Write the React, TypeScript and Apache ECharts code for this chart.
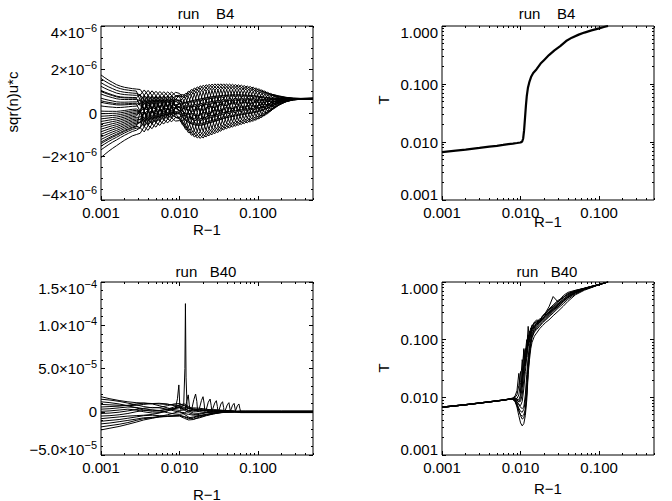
import React, { useEffect, useRef } from "react";
import * as echarts from "echarts";

const FONT = "'Liberation Sans', Arial, Helvetica, sans-serif";

// ---------- texts ----------
const PANEL_TITLES = ["run    B4", "run    B4", "run   B40", "run   B40"];
const X_TITLE = "R\u22121";
const Y_TITLES = ["sqr(n)u*c", "T", "", "T"];

// ---------- axes ----------
const X_MIN = 0.001;
const X_MAX = 0.5;
const T_MIN = 0.001;
const T_MAX = 1;
const TL_Y_MIN = -4e-6, TL_Y_MAX = 4e-6, TL_Y_STEP = 2e-6;
const BL_Y_MIN = -5e-5, BL_Y_MAX = 1.5e-4, BL_Y_STEP = 5e-5;

// ---------- top-left: run B4, sqr(n)u*c  (units 1e-6) ----------
const TL_X = [0.001, 0.00112, 0.00126, 0.00141, 0.00158, 0.00178, 0.002, 0.00224, 0.00251, 0.00282,
  0.00316, 0.00355, 0.00398, 0.00447, 0.00501, 0.00562, 0.00631, 0.00708, 0.00794, 0.00891,
  0.01, 0.0109, 0.0119, 0.0129, 0.0141, 0.0154, 0.0168, 0.0183, 0.02, 0.0218, 0.0237, 0.0259, 0.0282, 0.0308, 0.0335, 0.0365,
  0.0398, 0.0434, 0.0473, 0.0516, 0.0562, 0.0613, 0.0668, 0.0728, 0.0794, 0.0866, 0.0944, 0.103, 0.112, 0.122, 0.133, 0.145,
  0.16, 0.19, 0.23, 0.28, 0.35, 0.5];
// upper / lower envelope of the bundle
const TL_UPPER = [1.75, 1.62, 1.5, 1.4, 1.3, 1.23, 1.18, 1.15, 1.12, 1.1,
  1.08, 1.06, 1.04, 1.02, 1.0, 0.99, 0.98, 0.97, 0.97, 0.95,
  0.9, 0.85, 0.9, 1.0, 1.08, 1.15, 1.2, 1.25, 1.28, 1.3, 1.32, 1.33, 1.34, 1.34, 1.34, 1.34,
  1.33, 1.33, 1.32, 1.31, 1.3, 1.28, 1.26, 1.24, 1.22, 1.19, 1.15, 1.11, 1.06, 1.01, 0.95, 0.9,
  0.85, 0.78, 0.72, 0.68, 0.67, 0.68];
const TL_LOWER = [-2.05, -1.9, -1.75, -1.62, -1.5, -1.37, -1.25, -1.15, -1.05, -0.99,
  -0.93, -0.87, -0.8, -0.72, -0.65, -0.57, -0.5, -0.45, -0.4, -0.37,
  -0.35, -0.55, -0.75, -0.9, -1.02, -1.1, -1.15, -1.17, -1.15, -1.1, -1.05, -1.0, -0.95, -0.9, -0.84, -0.78,
  -0.73, -0.69, -0.65, -0.61, -0.57, -0.53, -0.49, -0.45, -0.42, -0.38, -0.33, -0.27, -0.2, -0.12, -0.03, 0.08,
  0.2, 0.38, 0.52, 0.6, 0.63, 0.64];
// position of each curve inside the envelope: +8 = upper edge, -8 = lower edge
const TL_LEVELS = [
  [8,8,8,8,8,8,8,8,8,8, 8,6,0,-6,-8,-6,0,6,8,6,
    6,3,0,-3,-6,-7,-8,-7,-6,-3,0,3,6,7,8,7, 6,3,0,-3,-6,-7,-8,-7,-6,-3,0,3,6,7,8,7, 6,3,0,-3,-6,-7],
  [5,5,5,5,5,5,5,5,5,5, 6,0,-6,-8,-6,0,6,8,6,0,
    0,-3,-6,-7,-8,-7,-6,-3,0,3,6,7,8,7,6,3, 0,-3,-6,-7,-8,-7,-6,-3,0,3,6,7,8,7,6,3, 0,-3,-6,-7,-8,-7],
  [1,1,1,1,1,1,1,1,1,1, 0,-6,-8,-6,0,6,8,6,0,-6,
    -6,-7,-8,-7,-6,-3,0,3,6,7,8,7,6,3,0,-3, -6,-7,-8,-7,-6,-3,0,3,6,7,8,7,6,3,0,-3, -6,-7,-8,-7,-6,-3],
  [-5,-5,-5,-5,-5,-5,-5,-5,-5,-5, -6,-8,-6,0,6,8,6,0,-6,-8,
    -8,-7,-6,-3,0,3,6,7,8,7,6,3,0,-3,-6,-7, -8,-7,-6,-3,0,3,6,7,8,7,6,3,0,-3,-6,-7, -8,-7,-6,-3,0,3],
  [-8,-8,-8,-8,-8,-8,-8,-8,-8,-8, -8,-6,0,6,8,6,0,-6,-8,-6,
    -6,-3,0,3,6,7,8,7,6,3,0,-3,-6,-7,-8,-7, -6,-3,0,3,6,7,8,7,6,3,0,-3,-6,-7,-8,-7, -6,-3,0,3,6,7],
  [-6.5,-6.5,-6.5,-6.5,-6.5,-6.5,-6.5,-6.5,-6.5,-6.5, -6,0,6,8,6,0,-6,-8,-6,0,
    0,3,6,7,8,7,6,3,0,-3,-6,-7,-8,-7,-6,-3, 0,3,6,7,8,7,6,3,0,-3,-6,-7,-8,-7,-6,-3, 0,3,6,7,8,7],
  [-1.5,-1.5,-1.5,-1.5,-1.5,-1.5,-1.5,-1.5,-1.5,-1.5, 0,6,8,6,0,-6,-8,-6,0,6,
    6,7,8,7,6,3,0,-3,-6,-7,-8,-7,-6,-3,0,3, 6,7,8,7,6,3,0,-3,-6,-7,-8,-7,-6,-3,0,3, 6,7,8,7,6,3],
  [6.5,6.5,6.5,6.5,6.5,6.5,6.5,6.5,6.5,6.5, 6,8,6,0,-6,-8,-6,0,6,8,
    8,7,6,3,0,-3,-6,-7,-8,-7,-6,-3,0,3,6,7, 8,7,6,3,0,-3,-6,-7,-8,-7,-6,-3,0,3,6,7, 8,7,6,3,0,-3],
  [5.8,5.8,5.8,5.8,5.8,5.8,5.8,5.8,5.8,5.8, 6,4,0,-4,-6,-4,0,4,6,4,
    3,0,-3,-6,-7,-8,-7,-6,-3,0,3,6,7,8,7,6, 3,0,-3,-6,-7,-8,-7,-6,-3,0,3,6,7,8,7,6, 3,0,-3,-6,-7,-8],
  [4.3,4.3,4.3,4.3,4.3,4.3,4.3,4.3,4.3,4.3, 4,0,-4,-6,-4,0,4,6,4,0,
    -3,-6,-7,-8,-7,-6,-3,0,3,6,7,8,7,6,3,0, -3,-6,-7,-8,-7,-6,-3,0,3,6,7,8,7,6,3,0, -3,-6,-7,-8,-7,-6],
  [0.5,0.5,0.5,0.5,0.5,0.5,0.5,0.5,0.5,0.5, 0,-4,-6,-4,0,4,6,4,0,-4,
    -7,-8,-7,-6,-3,0,3,6,7,8,7,6,3,0,-3,-6, -7,-8,-7,-6,-3,0,3,6,7,8,7,6,3,0,-3,-6, -7,-8,-7,-6,-3,0],
  [-3.5,-3.5,-3.5,-3.5,-3.5,-3.5,-3.5,-3.5,-3.5,-3.5, -4,-6,-4,0,4,6,4,0,-4,-6,
    -7,-6,-3,0,3,6,7,8,7,6,3,0,-3,-6,-7,-8, -7,-6,-3,0,3,6,7,8,7,6,3,0,-3,-6,-7,-8, -7,-6,-3,0,3,6],
  [-5.8,-5.8,-5.8,-5.8,-5.8,-5.8,-5.8,-5.8,-5.8,-5.8, -6,-4,0,4,6,4,0,-4,-6,-4,
    -3,0,3,6,7,8,7,6,3,0,-3,-6,-7,-8,-7,-6, -3,0,3,6,7,8,7,6,3,0,-3,-6,-7,-8,-7,-6, -3,0,3,6,7,8],
  [-4.5,-4.5,-4.5,-4.5,-4.5,-4.5,-4.5,-4.5,-4.5,-4.5, -4,0,4,6,4,0,-4,-6,-4,0,
    3,6,7,8,7,6,3,0,-3,-6,-7,-8,-7,-6,-3,0, 3,6,7,8,7,6,3,0,-3,-6,-7,-8,-7,-6,-3,0, 3,6,7,8,7,6],
  [-1,-1,-1,-1,-1,-1,-1,-1,-1,-1, 0,4,6,4,0,-4,-6,-4,0,4,
    7,8,7,6,3,0,-3,-6,-7,-8,-7,-6,-3,0,3,6, 7,8,7,6,3,0,-3,-6,-7,-8,-7,-6,-3,0,3,6, 7,8,7,6,3,0],
  [7.3,7.3,7.3,7.3,7.3,7.3,7.3,7.3,7.3,7.3, 4,6,4,0,-4,-6,-4,0,4,6,
    7,6,3,0,-3,-6,-7,-8,-7,-6,-3,0,3,6,7,8, 7,6,3,0,-3,-6,-7,-8,-7,-6,-3,0,3,6,7,8, 7,6,3,0,-3,-6],
  [3.5,3.5,3.5,3.5,3.5,3.5,3.5,3.5,3.5,3.5, 4,3,0,-3,-4,-3,0,3,4,3,
    4,3,2,0,-2,-3,-4,-4,-4,-3,-2,0,2,3,4,4, 4,3,2,0,-2,-3,-4,-4,-4,-3,-2,0,2,3,4,4, 4,3,2,0,-2,-3],
  [2,2,2,2,2,2,2,2,2,2, 3,0,-3,-4,-3,0,3,4,3,0,
    2,0,-2,-3,-4,-4,-4,-3,-2,0,2,3,4,4,4,3, 2,0,-2,-3,-4,-4,-4,-3,-2,0,2,3,4,4,4,3, 2,0,-2,-3,-4,-4],
  [0,0,0,0,0,0,0,0,0,0, 0,-3,-4,-3,0,3,4,3,0,-3,
    -2,-3,-4,-4,-4,-3,-2,0,2,3,4,4,4,3,2,0, -2,-3,-4,-4,-4,-3,-2,0,2,3,4,4,4,3,2,0, -2,-3,-4,-4,-4,-3],
  [-3,-3,-3,-3,-3,-3,-3,-3,-3,-3, -3,-4,-3,0,3,4,3,0,-3,-4,
    -4,-4,-4,-3,-2,0,2,3,4,4,4,3,2,0,-2,-3, -4,-4,-4,-3,-2,0,2,3,4,4,4,3,2,0,-2,-3, -4,-4,-4,-3,-2,0],
  [-4,-4,-4,-4,-4,-4,-4,-4,-4,-4, -4,-3,0,3,4,3,0,-3,-4,-3,
    -4,-3,-2,0,2,3,4,4,4,3,2,0,-2,-3,-4,-4, -4,-3,-2,0,2,3,4,4,4,3,2,0,-2,-3,-4,-4, -4,-3,-2,0,2,3],
  [-2.5,-2.5,-2.5,-2.5,-2.5,-2.5,-2.5,-2.5,-2.5,-2.5, -3,0,3,4,3,0,-3,-4,-3,0,
    -2,0,2,3,4,4,4,3,2,0,-2,-3,-4,-4,-4,-3, -2,0,2,3,4,4,4,3,2,0,-2,-3,-4,-4,-4,-3, -2,0,2,3,4,4],
  [-0.5,-0.5,-0.5,-0.5,-0.5,-0.5,-0.5,-0.5,-0.5,-0.5, 0,3,4,3,0,-3,-4,-3,0,3,
    2,3,4,4,4,3,2,0,-2,-3,-4,-4,-4,-3,-2,0, 2,3,4,4,4,3,2,0,-2,-3,-4,-4,-4,-3,-2,0, 2,3,4,4,4,3],
  [3,3,3,3,3,3,3,3,3,3, 3,4,3,0,-3,-4,-3,0,3,4,
    4,4,4,3,2,0,-2,-3,-4,-4,-4,-3,-2,0,2,3, 4,4,4,3,2,0,-2,-3,-4,-4,-4,-3,-2,0,2,3, 4,4,4,3,2,0],
  [4.8,4.8,4.8,4.8,4.8,4.8,4.8,4.8,4.8,4.8, 2,1,0,-1,-2,-1,0,1,2,1,
    2,2,1,1,0,-1,-1,-2,-2,-2,-1,-1,0,1,1,2, 2,2,1,1,0,-1,-1,-2,-2,-2,-1,-1,0,1,1,2, 2,2,1,1,0,-1],
  [2.7,2.7,2.7,2.7,2.7,2.7,2.7,2.7,2.7,2.7, 0,-1,-2,-1,0,1,2,1,0,-1,
    0,-1,-1,-2,-2,-2,-1,-1,0,1,1,2,2,2,1,1, 0,-1,-1,-2,-2,-2,-1,-1,0,1,1,2,2,2,1,1, 0,-1,-1,-2,-2,-2],
  [-2,-2,-2,-2,-2,-2,-2,-2,-2,-2, -2,-1,0,1,2,1,0,-1,-2,-1,
    -2,-2,-1,-1,0,1,1,2,2,2,1,1,0,-1,-1,-2, -2,-2,-1,-1,0,1,1,2,2,2,1,1,0,-1,-1,-2, -2,-2,-1,-1,0,1],
  [-5.3,-5.3,-5.3,-5.3,-5.3,-5.3,-5.3,-5.3,-5.3,-5.3, 0,1,2,1,0,-1,-2,-1,0,1,
    0,1,1,2,2,2,1,1,0,-1,-1,-2,-2,-2,-1,-1, 0,1,1,2,2,2,1,1,0,-1,-1,-2,-2,-2,-1,-1, 0,1,1,2,2,2],
];

// ---------- top-right: run B4, T ----------
const TR_X = [0.001, 0.0015, 0.002, 0.003, 0.004, 0.005, 0.006, 0.007, 0.008, 0.009, 0.01, 0.0105, 0.0108, 0.0111,
  0.0114, 0.0117, 0.012, 0.0124, 0.013, 0.0137, 0.0145, 0.016, 0.018, 0.02, 0.023, 0.027, 0.032, 0.038, 0.045,
  0.055, 0.065, 0.08, 0.1, 0.115, 0.13];
const TR_T = [0.0067, 0.0071, 0.0074, 0.0079, 0.0083, 0.0086, 0.0089, 0.0092, 0.0094, 0.0096, 0.0098, 0.0102, 0.0115, 0.016,
  0.026, 0.042, 0.062, 0.085, 0.11, 0.135, 0.155, 0.18, 0.225, 0.26, 0.315, 0.38, 0.45, 0.55, 0.63,
  0.71, 0.77, 0.84, 0.91, 0.96, 1.0];

// ---------- bottom-left: run B40, sqr(n)u*c (units 1e-5) ----------
const BL_X = [0.001, 0.0013, 0.0017, 0.0022, 0.0028, 0.0035, 0.0045, 0.0055, 0.007, 0.0085, 0.01, 0.0115, 0.013,
  0.015, 0.018, 0.022, 0.027, 0.033, 0.04, 0.05, 0.06, 0.07, 0.1, 0.2, 0.5];
const BL_LINES = [
  [1.74, 1.5, 1.3, 1.15, 1.05, 1.0, 0.95, 0.9, 0.85, 0.8, 0.7, 0.5, 0.4, 0.3, 0.25, 0.2, 0.15, 0.1, 0.08, 0.05, 0.1, 0.1, 0.1, 0.1, 0.1],
  [1.45, 1.35, 1.2, 1.0, 0.8, 0.6, 0.45, 0.5, 0.7, 0.9, 0.95, 0.7, 0.4, 0.2, 0.1, 0.15, 0.2, 0.15, 0.1, 0.05, 0.05, 0.05, 0.05, 0.05, 0.05],
  [1.15, 1.05, 0.9, 0.7, 0.45, 0.2, 0.05, 0.1, 0.3, 0.55, 0.8, 0.9, 0.6, 0.35, 0.2, 0.05, -0.05, 0.05, 0.1, 0.05, 0, 0, 0, 0, 0],
  [0.85, 0.8, 0.75, 0.7, 0.75, 0.85, 0.95, 0.98, 0.9, 0.7, 0.5, 0.3, 0.15, 0.05, 0.1, 0.2, 0.25, 0.2, 0.12, 0.06, -0.05, -0.05, -0.05, -0.05, -0.05],
  [0.55, 0.6, 0.65, 0.75, 0.9, 1.0, 0.9, 0.7, 0.45, 0.25, 0.15, 0.2, 0.35, 0.45, 0.4, 0.3, 0.15, 0.05, 0.02, 0.01, -0.1, -0.1, -0.1, -0.1, -0.1],
  [0.3, 0.35, 0.45, 0.55, 0.5, 0.35, 0.2, 0.15, 0.25, 0.4, 0.6, 0.75, 0.5, 0.2, 0.0, -0.1, -0.05, 0.05, 0.08, 0.05, 0, 0, 0, 0, 0],
  [0.05, 0.1, 0.2, 0.3, 0.2, 0.0, -0.15, -0.1, 0.1, 0.35, 0.55, 0.4, 0.1, -0.15, -0.2, -0.1, 0.0, 0.1, 0.1, 0.05, 0, 0, 0, 0, 0],
  [-0.2, -0.15, -0.05, 0.1, 0.25, 0.4, 0.5, 0.45, 0.3, 0.1, -0.05, -0.1, 0.05, 0.2, 0.25, 0.15, 0.0, -0.1, -0.05, 0, 0, 0, 0, 0, 0],
  [-0.5, -0.45, -0.35, -0.2, 0.0, 0.15, 0.2, 0.1, -0.1, -0.25, -0.3, -0.2, -0.3, -0.4, -0.3, -0.1, 0.05, 0.1, 0.05, 0, 0, 0, 0, 0, 0],
  [-0.8, -0.7, -0.6, -0.5, -0.45, -0.4, -0.3, -0.15, 0.1, 0.35, 0.45, 0.2, -0.1, -0.3, -0.45, -0.35, -0.2, -0.05, 0, 0, 0, 0, 0, 0, 0],
  [-1.1, -1.0, -0.9, -0.75, -0.6, -0.45, -0.4, -0.45, -0.5, -0.5, -0.45, -0.6, -0.8, -0.7, -0.5, -0.3, -0.15, -0.05, -0.02, 0, 0, 0, 0, 0, 0],
  [-1.4, -1.3, -1.15, -1.0, -0.85, -0.7, -0.65, -0.55, -0.35, -0.15, 0.05, -0.3, -0.6, -0.85, -0.7, -0.45, -0.25, -0.1, -0.03, 0, 0, 0, 0, 0, 0],
  [-1.75, -1.6, -1.45, -1.25, -1.0, -0.8, -0.7, -0.6, -0.55, -0.5, -0.5, -0.75, -0.95, -0.9, -0.6, -0.4, -0.25, -0.12, -0.05, -0.02, 0, 0, 0, 0, 0],
  [-2.1, -1.9, -1.7, -1.45, -1.2, -0.95, -0.75, -0.6, -0.5, -0.45, -0.4, -0.55, -0.7, -0.6, -0.45, -0.3, -0.2, -0.1, -0.04, -0.01, 0, 0, 0, 0, 0],
];
// resonance bumps [x, value in 1e-5]
const BL_SPIKES = [
  [[0.0088, 0.3], [0.0094, 1.5], [0.0098, 3.1], [0.0101, 0.5], [0.0105, 0.2]],
  [[0.0113, 0.8], [0.0117, 5.0], [0.01188, 12.5], [0.0121, 4.0], [0.0125, 0.3]],
  [[0.0118, 0.2], [0.0123, 1.2], [0.0129, 1.95], [0.0133, 0.8], [0.0137, 0.0]],
  [[0.0143, 0.3], [0.0152, 1.4], [0.016, 2.05], [0.0166, 1.2], [0.017, 0.0]],
  [[0.0178, 0.3], [0.019, 1.3], [0.0199, 1.74], [0.0206, 0.9], [0.021, 0.0]],
  [[0.0218, 0.2], [0.0232, 1.1], [0.0245, 1.47], [0.0253, 0.7], [0.0258, -0.1]],
  [[0.0262, 0.2], [0.028, 1.0], [0.0294, 1.28], [0.0303, 0.6], [0.031, -0.1]],
  [[0.0316, 0.1], [0.0336, 0.9], [0.0353, 1.16], [0.0364, 0.5], [0.037, -0.1]],
  [[0.038, 0.1], [0.0405, 0.8], [0.0425, 1.05], [0.0437, 0.4], [0.0445, 0.0]],
  [[0.0445, 0.1], [0.0473, 0.75], [0.0495, 0.97], [0.0508, 0.4], [0.0516, 0.0]],
  [[0.0515, 0.1], [0.0545, 0.7], [0.057, 0.9], [0.0585, 0.4], [0.06, 0.0]],
];

// ---------- bottom-right: run B40, T ----------
const BR_X = [0.001, 0.002, 0.004, 0.006, 0.007, 0.008, 0.0085, 0.009, 0.0095, 0.01, 0.0105, 0.011, 0.0115, 0.012,
  0.0125, 0.013, 0.0135, 0.014, 0.015, 0.016, 0.0175, 0.019, 0.021, 0.023, 0.026, 0.03, 0.035, 0.04, 0.05, 0.065,
  0.08, 0.1, 0.13];
const BR_LINES = [
  [0.0067, 0.0074, 0.0083, 0.0089, 0.0092, 0.0098, 0.0105, 0.013, 0.026, 0.012, 0.02, 0.066, 0.035, 0.07, 0.17, 0.1, 0.13, 0.17, 0.2, 0.19, 0.22, 0.25, 0.3, 0.37, 0.56, 0.45, 0.58, 0.66, 0.72, 0.78, 0.84, 0.91, 1.0],
  [0.0067, 0.0074, 0.0083, 0.0089, 0.0092, 0.0096, 0.0098, 0.0095, 0.011, 0.018, 0.045, 0.03, 0.06, 0.1, 0.08, 0.13, 0.16, 0.15, 0.19, 0.21, 0.2, 0.25, 0.29, 0.33, 0.38, 0.46, 0.53, 0.62, 0.7, 0.77, 0.84, 0.91, 1.0],
  [0.0067, 0.0074, 0.0083, 0.0089, 0.0092, 0.0094, 0.0092, 0.0088, 0.0085, 0.0095, 0.015, 0.03, 0.05, 0.075, 0.1, 0.12, 0.14, 0.155, 0.175, 0.19, 0.21, 0.235, 0.27, 0.3, 0.35, 0.42, 0.5, 0.57, 0.68, 0.77, 0.83, 0.905, 1.0],
  [0.0068, 0.0075, 0.0084, 0.009, 0.0093, 0.0093, 0.009, 0.0082, 0.0075, 0.0072, 0.0085, 0.014, 0.028, 0.05, 0.075, 0.1, 0.12, 0.14, 0.165, 0.18, 0.2, 0.225, 0.26, 0.29, 0.34, 0.4, 0.48, 0.55, 0.66, 0.76, 0.82, 0.9, 1.0],
  [0.0067, 0.0074, 0.0083, 0.0089, 0.0092, 0.0092, 0.0085, 0.0068, 0.0048, 0.0036, 0.0032, 0.0035, 0.0048, 0.009, 0.025, 0.045, 0.07, 0.09, 0.115, 0.13, 0.155, 0.175, 0.2, 0.22, 0.26, 0.31, 0.38, 0.46, 0.6, 0.72, 0.8, 0.9, 1.0],
  [0.0068, 0.0075, 0.0084, 0.009, 0.0093, 0.0092, 0.0088, 0.0078, 0.0065, 0.0057, 0.0055, 0.0062, 0.0085, 0.018, 0.04, 0.07, 0.095, 0.12, 0.15, 0.165, 0.19, 0.21, 0.24, 0.27, 0.32, 0.38, 0.46, 0.54, 0.65, 0.75, 0.82, 0.9, 1.0],
  [0.0067, 0.0074, 0.0083, 0.0089, 0.0092, 0.0093, 0.009, 0.0085, 0.0075, 0.0067, 0.0064, 0.0068, 0.011, 0.025, 0.05, 0.08, 0.105, 0.13, 0.155, 0.175, 0.2, 0.22, 0.25, 0.28, 0.33, 0.4, 0.47, 0.55, 0.66, 0.76, 0.82, 0.9, 1.0],
  [0.0068, 0.0075, 0.0084, 0.009, 0.0093, 0.0092, 0.0086, 0.0072, 0.0058, 0.005, 0.0047, 0.005, 0.0062, 0.012, 0.03, 0.058, 0.085, 0.11, 0.135, 0.15, 0.17, 0.195, 0.22, 0.25, 0.29, 0.35, 0.42, 0.5, 0.62, 0.74, 0.81, 0.9, 1.0],
  [0.0067, 0.0074, 0.0083, 0.0089, 0.0092, 0.0095, 0.0097, 0.0092, 0.009, 0.011, 0.025, 0.07, 0.04, 0.085, 0.12, 0.09, 0.15, 0.18, 0.16, 0.2, 0.23, 0.22, 0.28, 0.32, 0.37, 0.44, 0.55, 0.6, 0.7, 0.78, 0.84, 0.91, 1.0],
  [0.0068, 0.0075, 0.0084, 0.009, 0.0093, 0.0094, 0.0094, 0.009, 0.0083, 0.0085, 0.011, 0.02, 0.04, 0.062, 0.088, 0.11, 0.13, 0.15, 0.17, 0.185, 0.205, 0.23, 0.265, 0.3, 0.35, 0.42, 0.5, 0.58, 0.68, 0.77, 0.83, 0.905, 1.0],
  [0.0067, 0.0074, 0.0083, 0.0089, 0.0092, 0.0092, 0.0087, 0.0075, 0.006, 0.0048, 0.0042, 0.0044, 0.0058, 0.011, 0.028, 0.055, 0.085, 0.11, 0.14, 0.16, 0.18, 0.2, 0.23, 0.26, 0.31, 0.37, 0.45, 0.53, 0.64, 0.75, 0.81, 0.9, 1.0],
  [0.0068, 0.0075, 0.0084, 0.009, 0.0093, 0.0096, 0.01, 0.011, 0.016, 0.028, 0.015, 0.035, 0.07, 0.05, 0.11, 0.14, 0.12, 0.17, 0.2, 0.22, 0.21, 0.26, 0.29, 0.34, 0.4, 0.48, 0.54, 0.63, 0.71, 0.78, 0.84, 0.91, 1.0],
];

// ---------- helpers ----------
const GRIDS = [
  { left: 101, top: 26, width: 212, height: 174 },
  { left: 442, top: 26, width: 212, height: 174 },
  { left: 101, top: 282, width: 212, height: 173 },
  { left: 442, top: 282, width: 212, height: 173 },
];

const RICH = {
  m: { fontSize: 15, lineHeight: 20, fontFamily: FONT, color: "#000" },
  e: { fontSize: 11, lineHeight: 10, verticalAlign: "top", fontFamily: FONT, color: "#000" },
  g: { fontSize: 2, lineHeight: 12 },
};

function wrapEnd(isMax: boolean, isMin: boolean, body: string) {
  if (isMax) return "{g| }\n" + body;
  if (isMin) return body + "\n{g| }";
  return body;
}

function sciFormatter(min: number, max: number, digits: number) {
  return (v: number) => {
    const tol = (max - min) * 1e-6;
    let body: string;
    if (Math.abs(v) < tol) body = "{m|0}";
    else {
      const a = Math.abs(v);
      const exp = Math.floor(Math.log10(a) + 1e-9);
      const man = a / Math.pow(10, exp);
      body = `{m|${v < 0 ? "\u2212" : ""}${man.toFixed(digits)}\u00d710}{e|\u2212${-exp}}`;
    }
    return wrapEnd(Math.abs(v - max) < tol, Math.abs(v - min) < tol, body);
  };
}

function logFormatter(min: number, max: number) {
  return (v: number) => {
    const l = Math.log10(v);
    return wrapEnd(Math.abs(l - Math.log10(max)) < 1e-6, Math.abs(l - Math.log10(min)) < 1e-6, `{m|${v.toFixed(3)}}`);
  };
}

function minorLogPositions(minExp: number, maxVal: number) {
  const out: number[] = [];
  const lim = Math.log10(maxVal) + 1e-9;
  for (let d = minExp; d < 0; d++) {
    for (let k = 2; k <= 9; k++) {
      const p = Math.log10(k * Math.pow(10, d));
      if (p <= lim) out.push(p);
    }
  }
  return out;
}

const TICK_STYLE = { color: "#000", width: 1 };
const NO_LINE = { show: false, onZero: false };

function tickAxis(gridIndex: number, position: string, min: number, max: number, values: number[], length: number) {
  return {
    type: "value", gridIndex, position, min, max, silent: true,
    axisLine: NO_LINE, splitLine: { show: false }, axisLabel: { show: false },
    axisTick: { show: true, inside: true, length, customValues: values, lineStyle: TICK_STYLE },
  };
}

function buildOption() {
  const xAxes: any[] = [];
  const yAxes: any[] = [];
  const mainX: number[] = [];
  const mainY: number[] = [];
  const LX0 = Math.log10(X_MIN), LX1 = Math.log10(X_MAX);
  const LY0 = Math.log10(T_MIN), LY1 = Math.log10(T_MAX);
  const xMinor = minorLogPositions(-3, X_MAX);
  const yMinor = minorLogPositions(-3, T_MAX);

  GRIDS.forEach((_, g) => {
    mainX[g] = xAxes.length;
    xAxes.push({
      type: "log", logBase: 10, gridIndex: g, position: "bottom", min: X_MIN, max: X_MAX,
      axisLine: NO_LINE, splitLine: { show: false },
      axisTick: { inside: true, length: 4, lineStyle: TICK_STYLE },
      axisLabel: { color: "#000", fontFamily: FONT, fontSize: 15, margin: 5, showMaxLabel: false,
        formatter: (v: number) => v.toFixed(3) },
    });
    xAxes.push(tickAxis(g, "bottom", LX0, LX1, xMinor, 2));
    xAxes.push(tickAxis(g, "top", LX0, LX1, [-2, -1], 4));
    xAxes.push(tickAxis(g, "top", LX0, LX1, xMinor, 2));

    if (g === 0 || g === 2) {
      const min = g === 0 ? TL_Y_MIN : BL_Y_MIN;
      const max = g === 0 ? TL_Y_MAX : BL_Y_MAX;
      const step = g === 0 ? TL_Y_STEP : BL_Y_STEP;
      const split = g === 0 ? 4 : 5;
      const base = {
        type: "value", gridIndex: g, min, max, interval: step,
        axisLine: NO_LINE, splitLine: { show: false }, minorSplitLine: { show: false },
        axisTick: { inside: true, length: 4, lineStyle: TICK_STYLE },
        minorTick: { show: true, splitNumber: split, length: 2, lineStyle: TICK_STYLE },
      };
      mainY[g] = yAxes.length;
      yAxes.push({ ...base, position: "left",
        axisLabel: { margin: 4, rich: RICH, formatter: sciFormatter(min, max, g === 0 ? 0 : 1) } });
      yAxes.push({ ...base, position: "right", axisLabel: { show: false } });
    } else {
      mainY[g] = yAxes.length;
      yAxes.push({
        type: "log", logBase: 10, gridIndex: g, position: "left", min: T_MIN, max: T_MAX,
        axisLine: NO_LINE, splitLine: { show: false },
        axisTick: { inside: true, length: 4, lineStyle: TICK_STYLE },
        axisLabel: { margin: 4, rich: RICH, formatter: logFormatter(T_MIN, T_MAX) },
      });
      yAxes.push(tickAxis(g, "left", LY0, LY1, yMinor, 2));
      yAxes.push(tickAxis(g, "right", LY0, LY1, [-2, -1], 4));
      yAxes.push(tickAxis(g, "right", LY0, LY1, yMinor, 2));
    }
  });

  const series: any[] = [];
  const addLine = (g: number, data: number[][], width: number) => {
    series.push({
      type: "line", xAxisIndex: mainX[g], yAxisIndex: mainY[g], data,
      symbol: "none", showSymbol: false, silent: true, clip: true,
      lineStyle: { color: "#000", width }, emphasis: { disabled: true },
    });
  };

  // top-left
  TL_LEVELS.forEach((lv) => {
    addLine(0, TL_X.map((x, i) => {
      const c = (TL_UPPER[i] + TL_LOWER[i]) / 2;
      const h = (TL_UPPER[i] - TL_LOWER[i]) / 2;
      return [x, (c + (h * lv[i]) / 8) * 1e-6];
    }), 1);
  });
  // top-right
  addLine(1, TR_X.map((x, i) => [x, TR_T[i]]), 2.2);
  // bottom-left
  BL_LINES.forEach((row) => addLine(2, BL_X.map((x, i) => [x, row[i] * 1e-5]), 1));
  BL_SPIKES.forEach((sp) => addLine(2, sp.map(([x, y]) => [x, y * 1e-5]), 1));
  // bottom-right
  BR_LINES.forEach((row) => addLine(3, BR_X.map((x, i) => [x, row[i]]), 1));

  const txt = (text: string, x: number, y: number, rotation = 0) => ({
    type: "text", x, y, rotation, silent: true,
    style: { text, fontSize: 15, fontFamily: FONT, fill: "#000", align: "center", verticalAlign: "middle" },
  });
  const titleY = [13, 13, 271, 271];
  const xTitleY = [229, 221, 494, 488];
  const yTitlePos = [[12, 102], [383, 100], [0, 0], [383, 368]];
  const graphic: any[] = [];
  GRIDS.forEach((gr, g) => {
    const cx = gr.left + gr.width / 2;
    graphic.push(txt(PANEL_TITLES[g], cx - 1, titleY[g]));
    graphic.push(txt(X_TITLE, cx, xTitleY[g]));
    if (Y_TITLES[g]) graphic.push(txt(Y_TITLES[g], yTitlePos[g][0], yTitlePos[g][1], Math.PI / 2));
  });

  return {
    animation: false,
    backgroundColor: "#fff",
    textStyle: { fontFamily: FONT },
    grid: GRIDS.map((r) => ({
      ...r, show: true, borderColor: "#000", borderWidth: 1, backgroundColor: "transparent",
      containLabel: false, outerBoundsMode: "none",
    })),
    xAxis: xAxes,
    yAxis: yAxes,
    series,
    graphic,
  };
}

const App: React.FC = () => {
  const ref = useRef<HTMLDivElement>(null);
  useEffect(() => {
    if (!ref.current) return;
    const chart = echarts.init(ref.current, undefined, { renderer: "svg" });
    chart.setOption(buildOption() as any);
    return () => chart.dispose();
  }, []);
  return (
    <div
      ref={ref}
      style={{ position: "absolute", left: 0, top: 0, width: 672, height: 501, background: "#fff" }}
    />
  );
};

export default App;
